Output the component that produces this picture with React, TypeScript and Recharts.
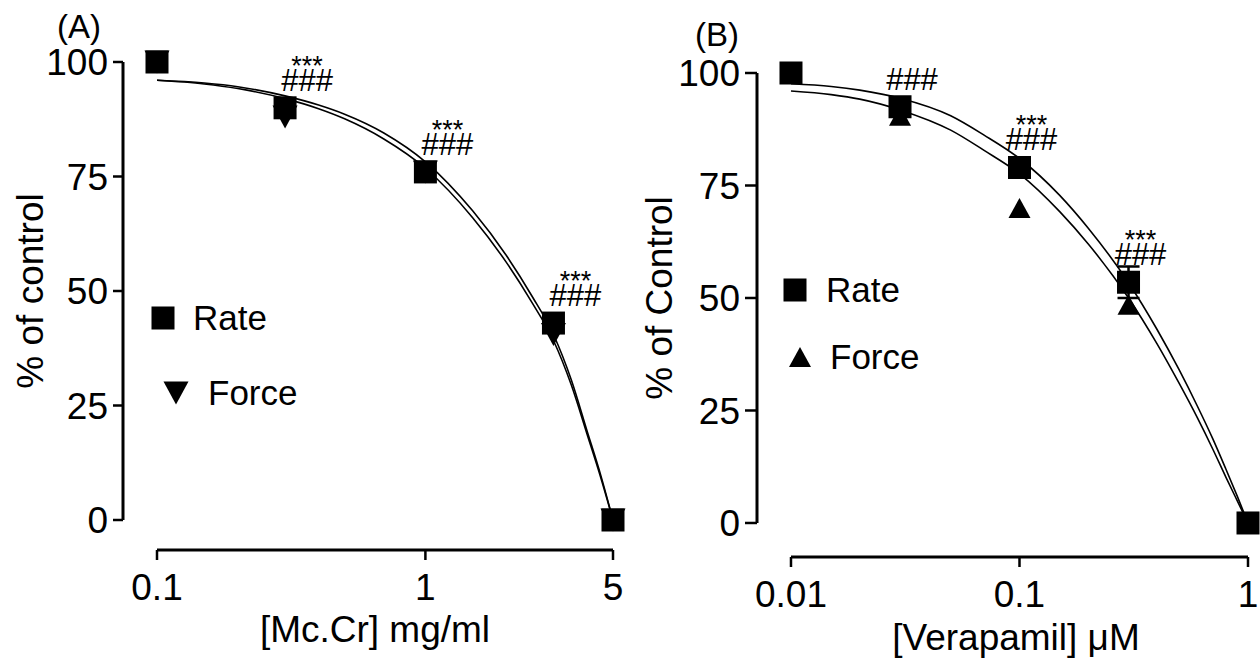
import { ComposedChart, Line, Scatter, XAxis, YAxis, ReferenceLine, ErrorBar, Legend, Label } from 'recharts'

const FONT = '"Liberation Sans", Arial, Helvetica, sans-serif'

// ---- panel A: Mc.Cr ----
const doseA = [0.1, 0.3, 1, 3, 5]
const rateA = [100, 90, 76, 43, 0]
const forceA = [100, 88, 76, 40.5, 0]
const fitDoseA = [0.1, 0.15, 0.2, 0.3, 0.4, 0.5, 0.7, 1, 1.5, 2, 2.5, 3, 3.5, 4, 4.5, 5]
const rateFitA = [96, 95.4, 94.6, 92.6, 90.6, 88.6, 84.5, 78.2, 67.5, 57.8, 48.8, 40.5, 30.5, 19.5, 9.8, 0]
const forceFitA = [96, 95.2, 94.2, 92, 89.8, 87.6, 83.2, 76.8, 66, 56.3, 47.4, 39.2, 29.4, 18.8, 9.3, 0]
const markDoseA = [0.3, 1, 3]
const markLevelA = [90, 76, 43]
const starsA = ['***', '***', '***']
const hashesA = ['###', '###', '###']
const xTicksA = [0.1, 1, 5]

// ---- panel B: Verapamil ----
const doseB = [0.01, 0.03, 0.1, 0.3, 1]
const rateB = [100, 92.5, 79, 53.5, 0]
const rateErrB = [0, 0, 0, 3.5, 0]
const forceB = [100, 90.5, 70, 48.5, 0]
const fitDoseB = [0.01, 0.015, 0.02, 0.03, 0.05, 0.07, 0.1, 0.15, 0.2, 0.3, 0.4, 0.5, 0.6, 0.7, 0.8, 0.9, 1]
const rateFitB = [97.6, 97, 96.2, 94.4, 90.5, 86.2, 81, 72.8, 65.5, 53.4, 43, 34, 26, 18.8, 12, 5.8, 0]
const forceFitB = [96, 95.2, 94.2, 91.8, 87.3, 82.8, 77.6, 69.2, 62, 50, 39.8, 31, 23.4, 16.5, 10.2, 4.8, 0]
const markDoseB = [0.03, 0.1, 0.3]
const markLevelB = [92.5, 79, 53.5]
const starsB = ['', '***', '***']
const hashesB = ['###', '###', '###']
const xTicksB = [0.01, 0.1, 1]

const yTicks = [0, 25, 50, 75, 100]
const seriesNames = ['Rate', 'Force']

const pts = (xs: number[], ys: number[]) => xs.map((x, i) => ({ x, y: ys[i] }))

const Square = (p: any) => <rect x={p.cx - 11.5} y={p.cy - 11.5} width={23} height={23} fill="#000" />
const DownTri = (p: any) => (
  <polygon points={`${p.cx - 12.5},${p.cy - 11.5} ${p.cx + 12.5},${p.cy - 11.5} ${p.cx},${p.cy + 11.5}`} fill="#000" />
)
const UpTri = (p: any) => (
  <polygon points={`${p.cx - 11},${p.cy + 10} ${p.cx + 11},${p.cy + 10} ${p.cx},${p.cy - 10}`} fill="#000" />
)

// significance marks: stars over hashes, one text block per point
const makeMark = (dx: number) => (p: any) => (
  <text x={p.cx + dx} y={p.cy - 33} textAnchor="middle" fontFamily={FONT} fill="#000">
    <tspan x={p.cx + dx} fontSize={27}>{p.payload.stars}</tspan>
    <tspan x={p.cx + dx} dy={16} fontSize={31}>{p.payload.hashes}</tspan>
  </text>
)

type Pt = { x: number; y: number; err?: number }

type PanelProps = {
  left: number
  width: number
  top: number
  yAxisWidth: number
  xAxisHeight: number
  right: number
  xDomain: [number, number]
  yMin: number
  xTicks: number[]
  rate: Pt[]
  force: Pt[]
  rateFit: Pt[]
  forceFit: Pt[]
  marks: { x: number; y: number; stars: string; hashes: string }[]
  markDx: number
  forceShape: (p: any) => any
  letter: string
  letterX: number
  letterY: number
  xTitle: string
  xTitleX: number
  xTitleY: number
  yTitle: string
  yTitleX: number
  yTitleY: number
  tickLen: number
  legend: { sx: number; sy: number; tx: number; ty: number; rx: number; ry: number; fx: number; fy: number }
  rateErr?: boolean
}

function Panel(props: PanelProps) {
  const { legend: lg } = props
  const tickStyle = { fill: '#000', fontSize: 37, fontFamily: FONT }
  return (
    <div style={{ position: 'absolute', left: props.left, top: 0 }}>
      <ComposedChart
        width={props.width}
        height={660}
        margin={{ top: props.top, right: props.right, bottom: 0, left: 0 }}
      >
        <XAxis
          type="number"
          dataKey="x"
          scale="log"
          domain={props.xDomain}
          ticks={props.xTicks}
          interval={0}
          height={props.xAxisHeight}
          axisLine={false}
          tickLine={{ stroke: '#000', strokeWidth: 2.5 }}
          tickSize={10}
          tickMargin={14}
          tick={tickStyle}
          tickFormatter={(v: number) => String(v)}
        >
          <Label
            content={() => (
              <text x={props.xTitleX} y={props.xTitleY} textAnchor="middle" fontSize={37} fontFamily={FONT} fill="#000">
                {props.xTitle}
              </text>
            )}
          />
        </XAxis>
        <YAxis
          type="number"
          domain={[props.yMin, 100]}
          ticks={yTicks}
          interval={0}
          width={props.yAxisWidth}
          axisLine={false}
          tickLine={{ stroke: '#000', strokeWidth: 2.5 }}
          tickSize={props.tickLen}
          tickMargin={5}
          tick={tickStyle}
        >
          <Label
            content={() => (
              <text
                x={props.yTitleX}
                y={props.yTitleY}
                transform={`rotate(-90 ${props.yTitleX} ${props.yTitleY})`}
                textAnchor="middle"
                fontSize={37}
                fontFamily={FONT}
                fill="#000"
              >
                {props.yTitle}
              </text>
            )}
          />
        </YAxis>
        <ReferenceLine
          segment={[{ x: props.xTicks[0], y: props.yMin }, { x: props.xTicks[props.xTicks.length - 1], y: props.yMin }]}
          stroke="#000"
          strokeWidth={3}
          ifOverflow="visible"
        />
        <ReferenceLine
          segment={[{ x: props.xDomain[0], y: 0 }, { x: props.xDomain[0], y: 100 }]}
          stroke="#000"
          strokeWidth={3}
          ifOverflow="visible"
        />
        <Line data={props.rateFit} dataKey="y" type="monotone" stroke="#000" strokeWidth={1.6} dot={false} activeDot={false} isAnimationActive={false} />
        <Line data={props.forceFit} dataKey="y" type="monotone" stroke="#000" strokeWidth={1.6} dot={false} activeDot={false} isAnimationActive={false} />
        <Scatter data={props.force} dataKey="y" shape={props.forceShape} isAnimationActive={false} />
        <Scatter data={props.rate} dataKey="y" shape={Square} isAnimationActive={false}>
          {props.rateErr && <ErrorBar dataKey="err" direction="y" width={11} stroke="#000" strokeWidth={2.5} />}
        </Scatter>
        <Scatter data={props.marks} dataKey="y" shape={makeMark(props.markDx)} isAnimationActive={false} />
        <Legend
          layout="vertical"
          align="center"
          verticalAlign="middle"
          wrapperStyle={{ left: 0, top: 0, width: 0, height: 0 }}
          content={() => (
            <svg
              width={props.width}
              height={660}
              style={{ position: 'absolute', left: 0, top: 0, overflow: 'visible', pointerEvents: 'none' }}
            >
              <text x={props.letterX} y={props.letterY} textAnchor="middle" fontSize={33} fontFamily={FONT}>{props.letter}</text>
              <Square cx={lg.sx} cy={lg.sy} />
              <text x={lg.tx} y={lg.ty} fontSize={35} fontFamily={FONT}>{seriesNames[0]}</text>
              {props.forceShape({ cx: lg.rx, cy: lg.ry })}
              <text x={lg.fx} y={lg.fy} fontSize={35} fontFamily={FONT}>{seriesNames[1]}</text>
            </svg>
          )}
        />
      </ComposedChart>
    </div>
  )
}

const marks = (xs: number[], ys: number[], stars: string[], hashes: string[]) =>
  xs.map((x, i) => ({ x, y: ys[i], stars: stars[i], hashes: hashes[i] }))

export default function App() {
  return (
    <div style={{ position: 'absolute', left: 0, top: 0, width: 1260, height: 660, background: '#fff', overflow: 'hidden' }}>
      <Panel
        left={0}
        width={640}
        top={62}
        right={27}
        yAxisWidth={123}
        xAxisHeight={110}
        xDomain={[0.0747, 5]}
        yMin={-6.55}
        xTicks={xTicksA}
        rate={pts(doseA, rateA)}
        force={pts(doseA, forceA)}
        rateFit={pts(fitDoseA, rateFitA)}
        forceFit={pts(fitDoseA, forceFitA)}
        marks={marks(markDoseA, markLevelA, starsA, hashesA)}
        markDx={22}
        forceShape={DownTri}
        letter="(A)"
        letterX={79}
        letterY={38}
        xTitle="[Mc.Cr] mg/ml"
        xTitleX={375}
        xTitleY={642}
        yTitle="% of control"
        yTitleX={43}
        yTitleY={291}
        tickLen={10}
        legend={{ sx: 163, sy: 318, tx: 193, ty: 330, rx: 176, ry: 393, fx: 208, fy: 405 }}
      />
      <Panel
        left={630}
        width={630}
        top={73}
        right={12}
        yAxisWidth={127}
        xAxisHeight={103}
        xDomain={[0.0071, 1]}
        yMin={-7.56}
        xTicks={xTicksB}
        rate={doseB.map((x, i) => ({ x, y: rateB[i], err: rateErrB[i] }))}
        force={pts(doseB, forceB)}
        rateFit={pts(fitDoseB, rateFitB)}
        forceFit={pts(fitDoseB, forceFitB)}
        marks={marks(markDoseB, markLevelB, starsB, hashesB)}
        markDx={12}
        forceShape={UpTri}
        letter="(B)"
        letterX={87}
        letterY={46}
        xTitle="[Verapamil] μM"
        xTitleX={386}
        xTitleY={650}
        yTitle="% of Control"
        yTitleX={42}
        yTitleY={298}
        tickLen={12}
        legend={{ sx: 165, sy: 290, tx: 196, ty: 302, rx: 170, ry: 357, fx: 200, fy: 369 }}
        rateErr
      />
    </div>
  )
}
